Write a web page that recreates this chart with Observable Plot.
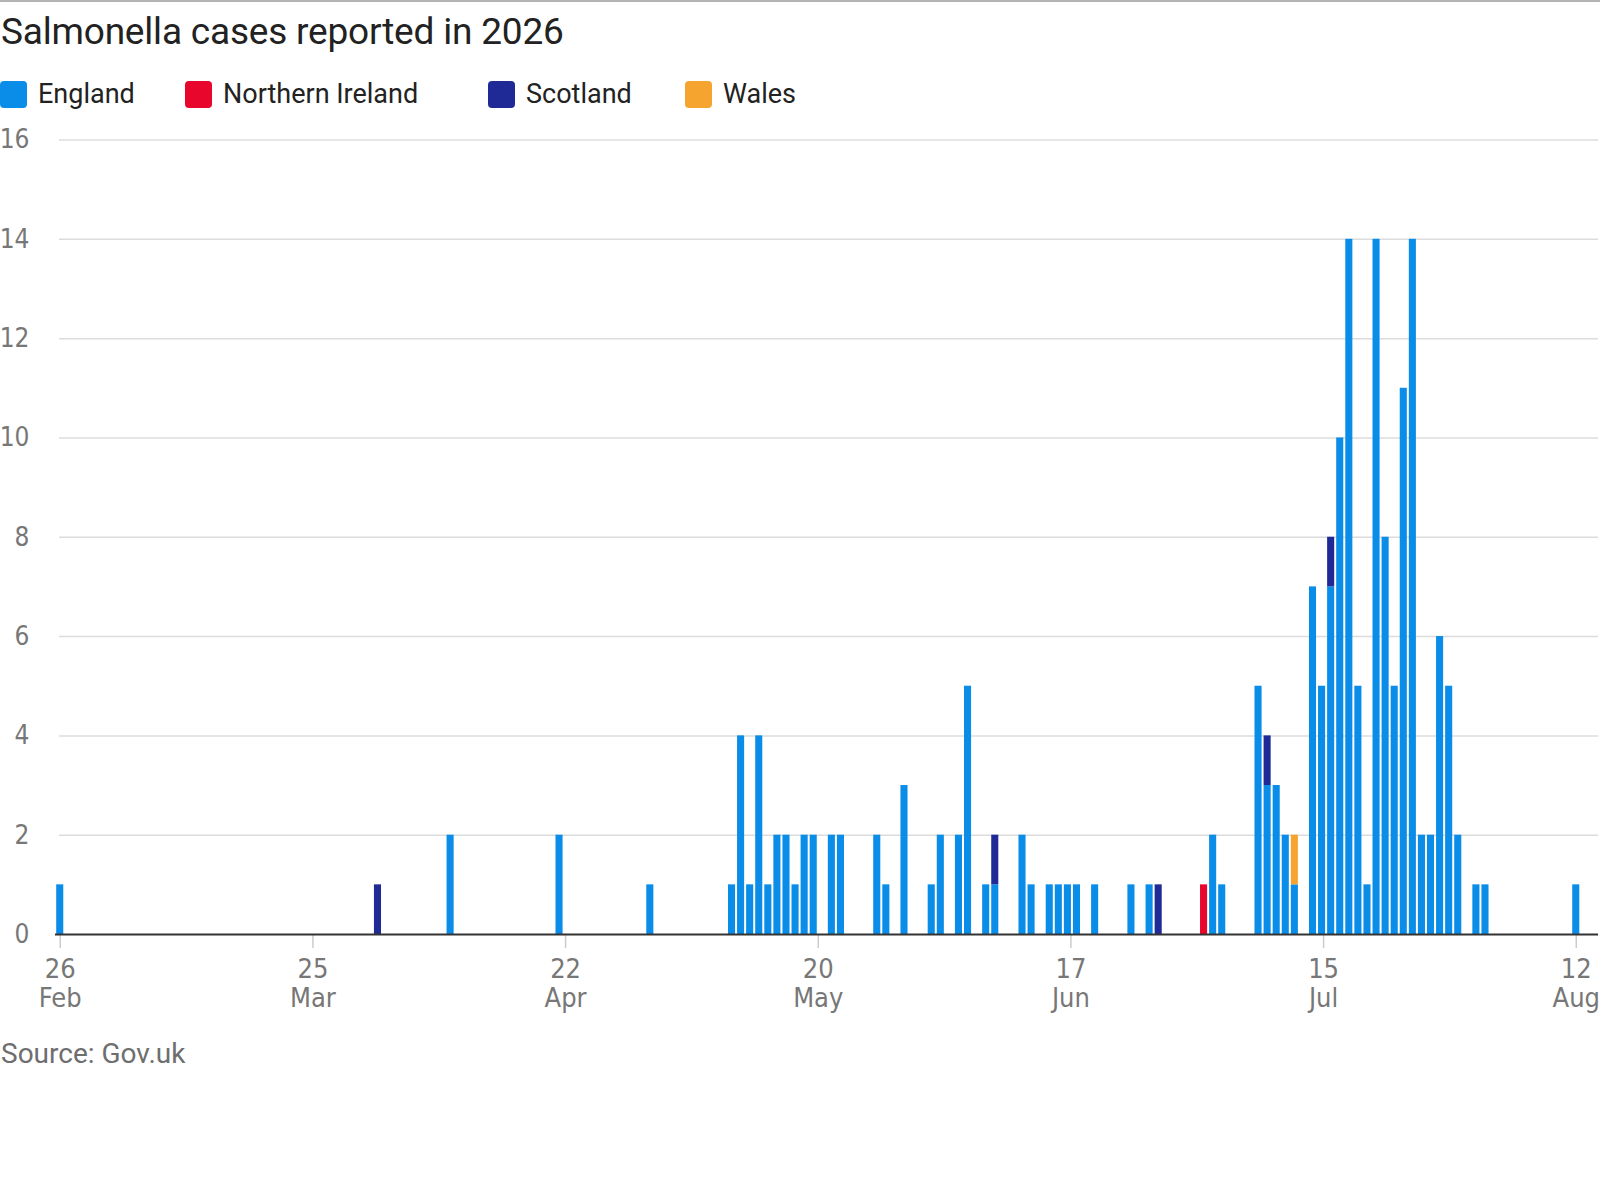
<!DOCTYPE html>
<html>
<head>
<meta charset="utf-8">
<script src="https://cdn.jsdelivr.net/npm/d3@7"></script>
<script src="https://cdn.jsdelivr.net/npm/@observablehq/plot@0.6"></script>
<style>
  html, body { margin: 0; padding: 0; background: #fff; }
  body { width: 1600px; height: 1200px; position: relative; font-family: Roboto, "Noto Sans", sans-serif; }
  #rule { position: absolute; left: 0; top: 0; width: 1600px; height: 2px; background: #b3b3b3; }
  #title { position: absolute; left: 1px; top: 13px; font-size: 37px; line-height: 1; color: #222; font-weight: 400; letter-spacing: -0.2px; white-space: nowrap; }
  .leg { position: absolute; top: 80px; height: 28px; display: flex; align-items: center; font-size: 27px; color: #222; white-space: nowrap; }
  .sw { width: 27px; height: 27px; border-radius: 4px; margin-right: 11px; flex: none; }
  #chart { position: absolute; left: 0; top: 120px; }
  #source { position: absolute; left: 1px; top: 1040px; font-size: 28px; line-height: 1; color: #6e6e6e; white-space: nowrap; }
</style>
</head>
<body>
<div id="rule"></div>
<div id="title">Salmonella cases reported in 2026</div>
<div id="legend"></div>
<div id="chart"></div>
<div id="source">Source: Gov.uk</div>
<script>
// ---- data ----
const countries = ["England", "Northern Ireland", "Scotland", "Wales"];
const colors = ["#098de8", "#e8062c", "#1f2a96", "#f5a430"];

const dates = [
  "2026-02-26","2026-04-02","2026-04-10","2026-04-22","2026-05-02",
  "2026-05-11","2026-05-12","2026-05-13","2026-05-14","2026-05-15","2026-05-16","2026-05-17","2026-05-18","2026-05-19","2026-05-20",
  "2026-05-22","2026-05-23","2026-05-27","2026-05-28","2026-05-30",
  "2026-06-02","2026-06-03","2026-06-05","2026-06-06","2026-06-08","2026-06-09",
  "2026-06-12","2026-06-13","2026-06-15","2026-06-16","2026-06-17","2026-06-18","2026-06-20","2026-06-24","2026-06-26","2026-06-27",
  "2026-07-02","2026-07-03","2026-07-04","2026-07-08","2026-07-09","2026-07-10","2026-07-11","2026-07-12",
  "2026-07-14","2026-07-15","2026-07-16","2026-07-17","2026-07-18","2026-07-19","2026-07-20","2026-07-21","2026-07-22",
  "2026-07-23","2026-07-24","2026-07-25","2026-07-26","2026-07-27","2026-07-28","2026-07-29","2026-07-30",
  "2026-08-01","2026-08-02","2026-08-12"
];
const england = [
  1,0,2,2,1,
  1,4,1,4,1,2,2,1,2,2,
  2,2,2,1,3,
  1,2,2,5,1,1,
  2,1,1,1,1,1,1,1,1,0,
  0,2,1,5,3,3,2,1,
  7,5,7,10,14,5,1,14,8,
  5,11,14,2,2,6,5,2,
  1,1,1
];
const northernIreland = [
  0,0,0,0,0,
  0,0,0,0,0,0,0,0,0,0,
  0,0,0,0,0,
  0,0,0,0,0,0,
  0,0,0,0,0,0,0,0,0,0,
  1,0,0,0,0,0,0,0,
  0,0,0,0,0,0,0,0,0,
  0,0,0,0,0,0,0,0,
  0,0,0
];
const scotland = [
  0,1,0,0,0,
  0,0,0,0,0,0,0,0,0,0,
  0,0,0,0,0,
  0,0,0,0,0,1,
  0,0,0,0,0,0,0,0,0,1,
  0,0,0,0,1,0,0,0,
  0,0,1,0,0,0,0,0,0,
  0,0,0,0,0,0,0,0,
  0,0,0
];
const wales = [
  0,0,0,0,0,
  0,0,0,0,0,0,0,0,0,0,
  0,0,0,0,0,
  0,0,0,0,0,0,
  0,0,0,0,0,0,0,0,0,0,
  0,0,0,0,0,0,0,1,
  0,0,0,0,0,0,0,0,0,
  0,0,0,0,0,0,0,0,
  0,0,0
];
const tickLabels = ["26\nFeb", "25\nMar", "22\nApr", "20\nMay", "17\nJun", "15\nJul", "12\nAug"];
const yTicks = [0, 2, 4, 6, 8, 10, 12, 14, 16];
const firstDay = "2026-02-26";
const lastDay = "2026-08-12";

// ---- tidy table ----
const series = [england, northernIreland, scotland, wales];
const rows = [];
dates.forEach((d, i) => {
  countries.forEach((c, k) => {
    const v = series[k][i];
    if (v > 0) rows.push({date: new Date(d), country: c, value: v});
  });
});

// ---- legend ----
const legendX = [0, 185, 488, 685];
const legend = document.getElementById("legend");
countries.forEach((c, k) => {
  const item = document.createElement("div");
  item.className = "leg";
  item.style.left = legendX[k] + "px";
  item.innerHTML = `<span class="sw" style="background:${colors[k]}"></span><span>${c}</span>`;
  legend.appendChild(item);
});

// ---- x ticks: evenly spaced between the first and last day (day centres) ----
const DAY = 864e5;
const t0 = +new Date(firstDay) + DAY / 2;
const t1 = +new Date(lastDay) + DAY / 2;
const tickDates = tickLabels.map((_, k) => new Date(t0 + k * (t1 - t0) / (tickLabels.length - 1)));
const labelOf = new Map(tickDates.map((d, k) => [+d, tickLabels[k]]));

const condensed = '"Liberation Sans Narrow", "DejaVu Sans Condensed", "Roboto Condensed", Roboto, sans-serif';

const chart = Plot.plot({
  width: 1600,
  height: 900,
  marginLeft: 59,
  marginRight: 2,
  marginTop: 19.5,
  marginBottom: 86,
  style: {fontFamily: condensed, fontSize: "26px", color: "#777", background: "transparent", overflow: "visible"},
  x: {type: "utc", label: null, domain: [new Date(firstDay), new Date(+new Date(lastDay) + DAY)], range: [55.2, 55.2 + 168 * 9.078]},
  y: {label: null, domain: [0, 16], range: [814, 19.5]},
  color: {domain: countries, range: colors},
  marks: [
    Plot.gridY(yTicks.filter(v => v > 0), {stroke: "#dcdcdc", strokeOpacity: 1, strokeWidth: 1.5}),
    Plot.axisY(yTicks, {label: null, tickSize: 0, tickPadding: 30, tickFormat: d => String(d), fontSize: 26, fill: "#777", textAnchor: "end"}),
    Plot.axisX(tickDates, {label: null, tickSize: 14, tickFormat: () => "", stroke: "#cccccc", strokeWidth: 1.5}),
    Plot.axisX(tickDates, {label: null, tickSize: 0, tickPadding: 22, tickFormat: d => labelOf.get(+d), fontSize: 27, lineHeight: 1.1, fill: "#777"}),
    Plot.rectY(rows, {x: "date", interval: "day", y: "value", fill: "country", order: countries, insetLeft: 1, insetRight: 1}),
    Plot.ruleY([0], {stroke: "#333", strokeWidth: 2, insetLeft: -4})
  ]
});
document.getElementById("chart").appendChild(chart);
</script>
</body>
</html>
